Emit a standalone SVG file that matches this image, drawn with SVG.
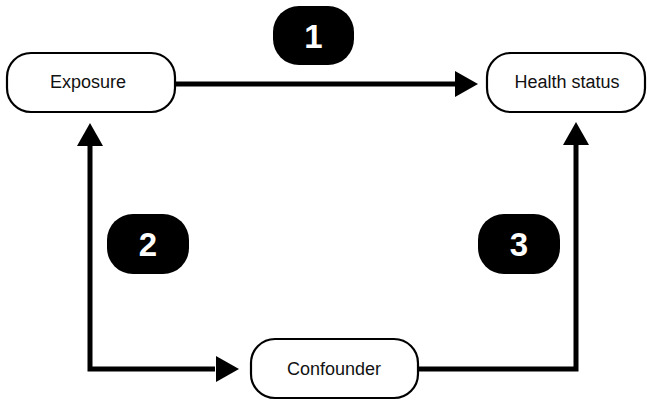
<svg xmlns="http://www.w3.org/2000/svg" width="647" height="400" viewBox="0 0 647 400">
<defs>
<style>
.node rect{fill:#fff;stroke:#000;stroke-width:2.2}
.node text{font-family:"Liberation Sans",Arial,sans-serif;font-size:18px;fill:#111;text-anchor:middle;dominant-baseline:central}
.badge rect{fill:#000}
.badge text{font-family:"Liberation Sans",Arial,sans-serif;font-size:33px;font-weight:bold;fill:#fff;text-anchor:middle;dominant-baseline:central}
.conn{fill:none;stroke:#000;stroke-width:5;stroke-linejoin:miter}
.head{fill:#000}
</style>
</defs>
<rect width="647" height="400" fill="#fff"/>
<g id="connectors">
<line class="conn" x1="175" y1="84" x2="460" y2="84"/>
<polygon class="head" points="478,84 455,71 455,97"/>
<polyline class="conn" points="215,369 90,369 90,142"/>
<polygon class="head" points="90,123 77,146 103,146"/>
<polygon class="head" points="239,369 216,356 216,382"/>
<polyline class="conn" points="418,369 576,369 576,142"/>
<polygon class="head" points="576,122 563,145 589,145"/>
</g>
<g id="exposure" class="node">
<rect x="7" y="53" width="168" height="59" rx="24"/>
<text x="88" y="82">Exposure</text>
</g>
<g id="health-status" class="node">
<rect x="487" y="53" width="158" height="59" rx="24"/>
<text x="567" y="82">Health status</text>
</g>
<g id="confounder" class="node">
<rect x="251" y="339" width="167" height="59" rx="24"/>
<text x="334" y="369">Confounder</text>
</g>
<g id="badge-1" class="badge">
<rect x="273" y="6" width="81" height="59" rx="26"/>
<text x="313.5" y="36">1</text>
</g>
<g id="badge-2" class="badge">
<rect x="107" y="214" width="82" height="60" rx="26"/>
<text x="148" y="244">2</text>
</g>
<g id="badge-3" class="badge">
<rect x="478" y="214" width="82" height="60" rx="26"/>
<text x="519" y="244">3</text>
</g>
</svg>
